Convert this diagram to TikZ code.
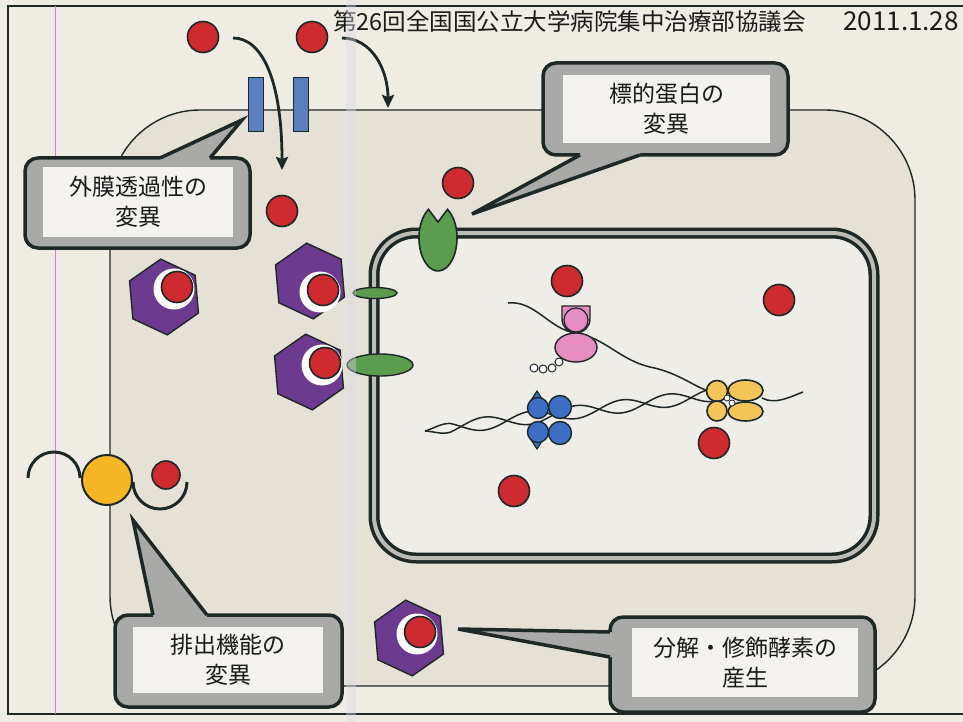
\documentclass[tikz,border=0pt]{standalone}
\usepackage{fontspec}
\newfontfamily\jp{Noto Sans CJK JP}
\usetikzlibrary{arrows.meta,shapes.geometric}

\definecolor{paper}{HTML}{EFECE4}
\definecolor{cellbg}{HTML}{E5E1D7}
\definecolor{nucbg}{HTML}{EFEDE7}
\definecolor{ink}{HTML}{1E2826}
\definecolor{textink}{HTML}{1A1A1A}
\definecolor{drugred}{HTML}{CD2B30}
\definecolor{hexpurple}{HTML}{6C3A8E}
\definecolor{porinblue}{HTML}{5A7EC0}
\definecolor{recgreen}{HTML}{5C9C4E}
\definecolor{pinkp}{HTML}{E58CC0}
\definecolor{bluep}{HTML}{3C6EC4}
\definecolor{yellowp}{HTML}{F2C45A}
\definecolor{pumporange}{HTML}{F4B624}
\definecolor{calloutgray}{HTML}{A9A9A7}
\definecolor{facewhite}{HTML}{F3F2EF}
\definecolor{membgray}{HTML}{BDBDB8}
\definecolor{foldband}{HTML}{DCDCE4}
\definecolor{guide}{HTML}{D67AD6}

\tikzset{
  drug/.style={circle, fill=drugred, draw=ink, line width=1.6pt, minimum size=31pt, inner sep=0pt},
  smalldrug/.style={drug, minimum size=28pt},
  pocket/.style={circle, fill=white, minimum size=41pt, inner sep=0pt},
  enzyme/.style={regular polygon, regular polygon sides=6, shape border rotate=35,
    fill=hexpurple, draw=ink, line width=1.4pt, minimum size=76pt, inner sep=0pt},
  porin/.style={rectangle, fill=porinblue, draw=ink, line width=1pt,
    minimum width=15pt, minimum height=54pt, inner sep=0pt},
  flow/.style={draw=ink, line width=2.8pt, -{Stealth[length=13pt,width=12pt,inset=2pt]}},
  calloutbox/.style={rectangle, rounded corners=13pt, fill=calloutgray, draw=ink,
    line width=3.5pt, inner sep=0pt},
  calloutface/.style={rectangle, fill=facewhite, inner sep=0pt},
  callouttext/.style={font=\jp\fontsize{23}{30}\selectfont, align=center, text=textink},
  tailedge/.style={draw=ink, line width=3.5pt},
  wire/.style={draw=ink, line width=1.5pt},
  bead/.style={circle, fill=white, draw=ink, line width=1pt, minimum size=8pt, inner sep=0pt},
  bluesub/.style={circle, fill=bluep, draw=ink, line width=1.4pt, minimum size=21pt, inner sep=0pt},
  yellowsub/.style={fill=yellowp, draw=ink, line width=1.6pt, inner sep=0pt},
  greenpart/.style={ellipse, fill=recgreen, draw=ink, line width=1.4pt, inner sep=0pt},
}

\begin{document}
\begin{tikzpicture}[x=1pt,y=-1pt]
\useasboundingbox (0,0) rectangle (963,722);
\fill[paper] (0,0) rectangle (963,722);

% page frame and margin guide
\draw[ink, line width=2.5pt] (963,6) -- (8,6) -- (8,714) -- (963,714);
\draw[guide, line width=0.8pt] (55,6) -- (55,714);

% outer membrane of the cell
\draw[fill=cellbg, draw=ink, line width=1.4pt, rounded corners=90pt] (110,110) rectangle (915,686);

% inner (cytoplasmic) membrane: double line
\fill[nucbg, rounded corners=42pt] (374,233) rectangle (874,558);
\draw[ink, line width=11pt, rounded corners=42pt] (374,233) rectangle (874,558);
\draw[membgray, line width=4pt, rounded corners=42pt] (374,233) rectangle (874,558);

% header
\node[font=\jp\fontsize{23.5}{28}\selectfont, text=textink, anchor=base west, inner sep=0pt]
  (title) at (333,31) {第26回全国国公立大学病院集中治療部協議会};
\node[font=\jp\fontsize{26}{28}\selectfont, text=textink, anchor=base east, inner sep=0pt]
  (date) at (959,31) {2011.1.28};

% porin channels and drug entry
\node[porin] (po1) at (255.5,105) {};
\node[porin] (po2) at (300.5,105) {};
\node[drug] (d1) at (203,37) {};
\node[drug] (d2) at (312,37) {};
\coordinate (a1s) at (233,38);
\coordinate (a1e) at (282,170);
\coordinate (a2s) at (342,38);
\coordinate (a2e) at (388,108);
\draw[flow] (a1s) .. controls (262,38) and (282,80) .. (a1e);
\draw[flow] (a2s) .. controls (372,38) and (388,70) .. (a2e);
\node[drug] (d3) at (282,211) {};

% membrane proteins on the inner membrane
\node[greenpart, minimum width=44pt, minimum height=11pt] (g1) at (375,293) {};
\node[greenpart, minimum width=66pt, minimum height=22pt] (g2) at (380,365) {};
\filldraw[fill=recgreen, draw=ink, line width=1.6pt]
  (438,238) ++(60:19pt and 33pt) arc[start angle=60, end angle=-240, x radius=19pt, y radius=33pt]
  -- (438,222) -- cycle;
\coordinate (target) at (438,222);
\node[drug] (d4) at (458,183) {};

% drug-inactivating enzymes
\node[enzyme] (e1) at (164,297) {};
\node[pocket] (k1) at (174,289) {};
\node[drug] (d5) at (177,287) {};
\node[enzyme] (e2) at (310,281) {};
\node[pocket] (k2) at (320,292) {};
\node[drug] (d6) at (323,290) {};
\node[enzyme] (e3) at (309,372) {};
\node[pocket] (k3) at (322,365) {};
\node[drug] (d7) at (325,363) {};
\node[enzyme] (e4) at (409,638) {};
\node[pocket] (k4) at (417,634) {};
\node[drug] (d8) at (420,632) {};

% DNA and associated proteins
\draw[wire] (508,303) .. controls (535,300) and (550,330) .. (576,333)
  .. controls (605,338) and (620,360) .. (650,367)
  .. controls (680,373) and (695,388) .. (712,392);
\draw[wire] (762,398) .. controls (775,405) and (790,397) .. (803,392);
\draw[wire] plot[domain=0:287, samples=160, smooth]
  ({425+\x}, {431-0.125*\x+6.5*min(1,\x/25)*sin(3.913*(\x-36))});
\draw[wire] plot[domain=0:287, samples=160, smooth]
  ({425+\x}, {431-0.125*\x-6.5*min(1,\x/25)*sin(3.913*(\x-36))});

% pink protein
\filldraw[fill=pinkp, draw=ink, line width=1.4pt]
  (562,306) -- (590,306) -- (590,319) arc[start angle=0, end angle=-180, radius=14pt] -- cycle;
\node[circle, fill=pinkp, draw=ink, line width=1.2pt, minimum size=24pt, inner sep=0pt] (pinkhead) at (576,320) {};
\node[ellipse, fill=pinkp, draw=ink, line width=1.4pt, minimum width=42pt, minimum height=29pt, inner sep=0pt] (pinkbody) at (576,347.5) {};
\node[bead] (b1) at (534,368) {};
\node[bead] (b2) at (543,369) {};
\node[bead] (b3) at (552,368) {};
\node[bead] (b4) at (559,362) {};

% blue protein on the double helix
\filldraw[fill=bluep, draw=ink, line width=1.2pt] (530,402) -- (537,391) -- (544,402) -- cycle;
\filldraw[fill=bluep, draw=ink, line width=1.2pt] (530,438) -- (537,449) -- (544,438) -- cycle;
\node[bluesub] (bl1) at (538,408) {};
\node[bluesub, minimum size=23pt] (bl2) at (560,407) {};
\node[bluesub] (bl3) at (538,432) {};
\node[bluesub, minimum size=23pt] (bl4) at (560,433) {};

% yellow protein
\node[yellowsub, circle, minimum size=21pt] (y1) at (717,391) {};
\node[yellowsub, circle, minimum size=20pt] (y2) at (717,411) {};
\node[yellowsub, ellipse, minimum width=35pt, minimum height=21pt] (y3) at (745.5,390.5) {};
\node[yellowsub, ellipse, minimum width=35pt, minimum height=19pt] (y4) at (745.5,411.5) {};
\node[circle, fill=white, draw=ink, line width=0.8pt, minimum size=6pt, inner sep=0pt] (yb1) at (727,398) {};
\node[circle, fill=white, draw=ink, line width=0.8pt, minimum size=6pt, inner sep=0pt] (yb2) at (732,403) {};

% drugs inside the cell
\node[drug] (d9) at (567,281) {};
\node[drug] (d10) at (779,300) {};
\node[drug] (d11) at (714,443) {};
\node[drug] (d12) at (514,491) {};

% efflux pump
\draw[ink, line width=3pt] (28,478) arc[start angle=180, end angle=0, radius=26pt];
\draw[ink, line width=3pt] (133,482) arc[start angle=180, end angle=360, radius=27pt];
\node[circle, fill=pumporange, draw=ink, line width=2pt, minimum size=50pt, inner sep=0pt] (pump) at (107,480) {};
\node[smalldrug] (d13) at (166,475) {};

% callout: outer membrane permeability
\node[calloutbox, minimum width=225pt, minimum height=90pt] (box1) at (137.5,203) {};
\fill[calloutgray] (242,120) -- (160,158) -- (160,166) -- (210,166) -- (210,158) -- cycle;
\draw[tailedge] (160,158) -- (242,120) -- (210,158);
\node[calloutface, minimum width=190pt, minimum height=70pt] (face1) at (138,202) {};
\node[callouttext] (t1) at (138,202) {外膜透過性の\\変異};

% callout: target protein
\node[calloutbox, minimum width=245pt, minimum height=92pt] (box2) at (665.5,109) {};
\fill[calloutgray] (472,214) -- (580,155) -- (580,147) -- (640,147) -- (640,155) -- cycle;
\draw[tailedge] (580,155) -- (472,214) -- (640,155);
\node[calloutface, minimum width=207pt, minimum height=68pt] (face2) at (666.5,109) {};
\node[callouttext] (t2) at (666.5,109) {標的蛋白の\\変異};

% callout: efflux function
\node[calloutbox, minimum width=227pt, minimum height=92pt] (box3) at (228.5,661) {};
\fill[calloutgray] (133,520) -- (153,615) -- (153,623) -- (207,623) -- (207,615) -- cycle;
\draw[tailedge] (153,615) -- (133,520) -- (207,615);
\node[calloutface, minimum width=190pt, minimum height=66pt] (face3) at (228,660) {};
\node[callouttext] (t3) at (228,660) {排出機能の\\変異};

% callout: degrading / modifying enzymes
\node[calloutbox, minimum width=265pt, minimum height=95pt] (box4) at (742.5,664.5) {};
\fill[calloutgray] (458,629) -- (610,632) -- (618,632) -- (618,657) -- (610,657) -- cycle;
\draw[tailedge] (610,632) -- (458,629) -- (610,657);
\node[calloutface, minimum width=226pt, minimum height=69pt] (face4) at (745,662.5) {};
\node[callouttext] (t4) at (745,662.5) {分解・修飾酵素の\\産生};

% paper fold
\fill[foldband, opacity=0.4] (346,0) rectangle (356,722);
\end{tikzpicture}
\end{document}
